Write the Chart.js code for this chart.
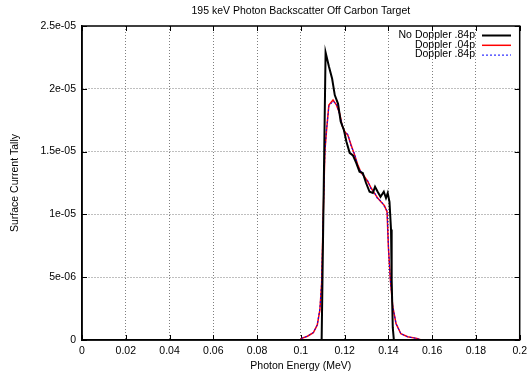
<!DOCTYPE html>
<html>
<head>
<meta charset="utf-8">
<script src="https://cdn.jsdelivr.net/npm/chart.js@4/dist/chart.umd.min.js"></script>
<style>
body { margin: 0; background: #fff; }
canvas { display: block; }
</style>
</head>
<body>
<canvas id="spectrum" width="532" height="381"></canvas>
<script>
// No Doppler .84p
var noDopE = [0, 0.109, 0.1095, 0.1113, 0.1128, 0.1143, 0.1155, 0.117, 0.1182, 0.1197, 0.1208, 0.1223, 0.1238, 0.1253, 0.1268, 0.1283, 0.1298, 0.1314, 0.1329, 0.1339, 0.1351, 0.1364, 0.1379, 0.1389, 0.1397, 0.1405, 0.1412, 0.1415, 0.142, 0.1425, 0.2];
var noDop = [0, 0, 0, 2.29e-5, 2.18e-5, 2.08e-5, 1.95e-5, 1.88e-5, 1.74e-5, 1.67e-5, 1.58e-5, 1.49e-5, 1.47e-5, 1.41e-5, 1.34e-5, 1.33e-5, 1.25e-5, 1.18e-5, 1.17e-5, 1.22e-5, 1.18e-5, 1.14e-5, 1.18e-5, 1.13e-5, 1.17e-5, 1.10e-5, 8.8e-6, 4.8e-6, 1.0e-6, 0, 0];
// Doppler .04p and .84p
var dopE = [0, 0.0995, 0.1004, 0.103, 0.1057, 0.1075, 0.1087, 0.1095, 0.1102, 0.111, 0.1117, 0.1128, 0.1147, 0.1163, 0.1178, 0.1188, 0.12, 0.1215, 0.123, 0.1246, 0.1261, 0.1276, 0.1291, 0.1306, 0.1321, 0.1336, 0.1351, 0.1366, 0.1382, 0.1394, 0.14, 0.1409, 0.142, 0.1435, 0.1457, 0.1488, 0.153, 0.155, 0.2];
var dop04 = [0, 0, 1.3e-7, 3e-7, 5.8e-7, 1.2e-6, 2.4e-6, 4.5e-6, 9.8e-6, 1.51e-5, 1.66e-5, 1.87e-5, 1.91e-5, 1.87e-5, 1.80e-5, 1.71e-5, 1.66e-5, 1.63e-5, 1.55e-5, 1.47e-5, 1.39e-5, 1.33e-5, 1.30e-5, 1.26e-5, 1.21e-5, 1.17e-5, 1.13e-5, 1.10e-5, 1.07e-5, 1.02e-5, 7.4e-6, 4.8e-6, 2.65e-6, 1.3e-6, 5e-7, 2.6e-7, 1.3e-7, 0, 0];
var dop84 = [0, 0, 1.4e-7, 3e-7, 6.0e-7, 1.2e-6, 2.5e-6, 4.6e-6, 9.7e-6, 1.50e-5, 1.67e-5, 1.86e-5, 1.90e-5, 1.88e-5, 1.79e-5, 1.72e-5, 1.65e-5, 1.64e-5, 1.54e-5, 1.48e-5, 1.38e-5, 1.34e-5, 1.29e-5, 1.27e-5, 1.20e-5, 1.18e-5, 1.12e-5, 1.11e-5, 1.06e-5, 1.03e-5, 7.5e-6, 4.7e-6, 2.7e-6, 1.3e-6, 5e-7, 2.5e-7, 1.2e-7, 0, 0];

var seriesNames = ['No Doppler .84p', 'Doppler .04p', 'Doppler .84p'];
var xTickLabels = ['0', '0.02', '0.04', '0.06', '0.08', '0.1', '0.12', '0.14', '0.16', '0.18', '0.2'];
var yTickLabels = ['0', '5e-06', '1e-05', '1.5e-05', '2e-05', '2.5e-05'];

var FONT = '"Liberation Sans", Arial, sans-serif';
Chart.defaults.font.family = FONT;
Chart.defaults.font.size = 10.5;
Chart.defaults.color = '#000';

function pts(xs, ys) {
	var out = [];
	for (var i = 0; i < xs.length; i++) out.push({ x: xs[i], y: ys[i] });
	return out;
}

var frame = {
	id: 'frame',
	beforeDatasetsDraw: function (chart) {
		var ctx = chart.ctx, a = chart.chartArea;
		var xs = chart.scales.x, ys = chart.scales.y;
		ctx.save();
		ctx.strokeStyle = '#000';
		ctx.lineWidth = 1;
		ctx.beginPath();
		xs.ticks.forEach(function (t) {
			var px = Math.round(xs.getPixelForValue(t.value)) + 0.5;
			ctx.moveTo(px, a.bottom); ctx.lineTo(px, a.bottom - 5);
			ctx.moveTo(px, a.top); ctx.lineTo(px, a.top + 5);
		});
		ys.ticks.forEach(function (t) {
			var py = Math.round(ys.getPixelForValue(t.value)) + 0.5;
			ctx.moveTo(a.left, py); ctx.lineTo(a.left + 5, py);
			ctx.moveTo(a.right, py); ctx.lineTo(a.right - 5, py);
		});
		ctx.stroke();
		ctx.lineWidth = 1.5;
		ctx.strokeRect(a.left, a.top, a.right - a.left, a.bottom - a.top);
		ctx.restore();
	},
	afterDraw: function (chart) {
		var ctx = chart.ctx, a = chart.chartArea;
		ctx.save();
		ctx.fillStyle = '#000';
		ctx.font = '10.5px ' + FONT;
		ctx.textAlign = 'center';
		ctx.textBaseline = 'middle';
		ctx.fillText('195 keV Photon Backscatter Off Carbon Target', (a.left + a.right) / 2, 11);
		ctx.fillText('Photon Energy (MeV)', (a.left + a.right) / 2, 366);
		ctx.translate(15, (a.top + a.bottom) / 2);
		ctx.rotate(-Math.PI / 2);
		ctx.fillText('Surface Current Tally', 0, 0);
		ctx.restore();

		// legend: text right-aligned, line sample to its right
		ctx.save();
		ctx.font = '10.5px ' + FONT;
		ctx.textAlign = 'right';
		ctx.textBaseline = 'middle';
		chart.data.datasets.forEach(function (ds, i) {
			var y = 35 + i * 9.8;
			ctx.fillStyle = '#000';
			ctx.fillText(ds.label, 475, y);
			ctx.strokeStyle = ds.borderColor;
			ctx.lineWidth = ds.borderWidth;
			ctx.setLineDash(ds.borderDash || []);
			ctx.beginPath();
			ctx.moveTo(482, y + 0.5);
			ctx.lineTo(511, y + 0.5);
			ctx.stroke();
		});
		ctx.restore();
	}
};

var gridColor = function (c) {
	return (c.index === 0 || c.index === c.scale.ticks.length - 1) ? 'rgba(0,0,0,0)' : 'rgba(0,0,0,0.5)';
};

var ctx = document.getElementById('spectrum').getContext('2d');
window.SpectrumChart = new Chart(ctx, {
	type: 'line',
	data: {
		datasets: [{
			label: seriesNames[0],
			data: pts(noDopE, noDop),
			borderColor: '#000',
			borderWidth: 2,
			pointRadius: 0,
			tension: 0,
			order: 0
		}, {
			label: seriesNames[1],
			data: pts(dopE, dop04),
			borderColor: '#ff0000',
			borderWidth: 1.5,
			pointRadius: 0,
			tension: 0,
			order: 2
		}, {
			label: seriesNames[2],
			data: pts(dopE, dop84),
			borderColor: '#0000ff',
			borderWidth: 1,
			borderDash: [2, 2],
			pointRadius: 0,
			tension: 0,
			order: 1
		}]
	},
	options: {
		responsive: false,
		animation: false,
		events: [],
		layout: { padding: { top: 26, right: 9, left: 0, bottom: 0 } },
		plugins: {
			legend: { display: false },
			title: { display: false },
			tooltip: { enabled: false }
		},
		scales: {
			x: {
				type: 'linear',
				min: 0,
				max: 0.2,
				afterFit: function (s) { s.height = 41; },
				ticks: {
					stepSize: 0.02,
					padding: 5,
					maxRotation: 0,
					callback: function (v, i) { return xTickLabels[i]; }
				},
				grid: { drawTicks: false, color: gridColor, lineWidth: 1 },
				border: { color: '#000', width: 1.5, dash: [1, 2] }
			},
			y: {
				type: 'linear',
				min: 0,
				max: 2.5e-5,
				afterFit: function (s) { s.width = 82; },
				ticks: {
					stepSize: 5e-6,
					padding: 6,
					callback: function (v, i) { return yTickLabels[i]; }
				},
				grid: { drawTicks: false, color: gridColor, lineWidth: 1 },
				border: { color: '#000', width: 1.5, dash: [1, 2] }
			}
		}
	},
	plugins: [frame]
});
</script>
</body>
</html>
